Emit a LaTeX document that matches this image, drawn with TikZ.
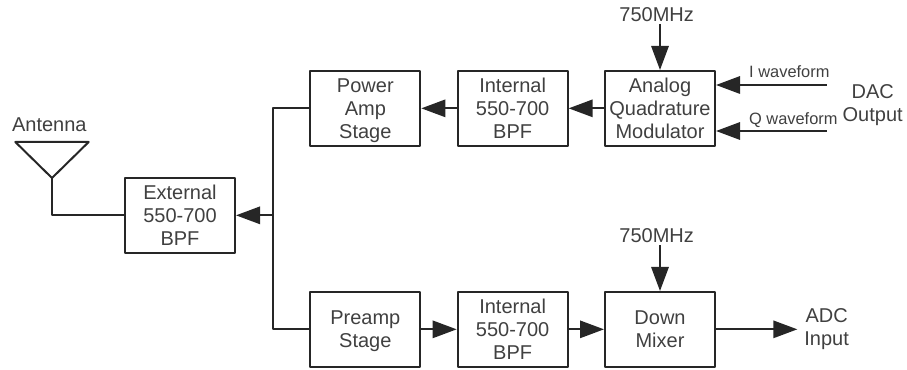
\documentclass[tikz,border=0pt]{standalone}
\usepackage{fontspec}
\setmainfont{Liberation Sans}
\usetikzlibrary{positioning,arrows.meta}

\begin{document}
\begin{tikzpicture}[
	font=\rmfamily\fontsize{15pt}{17.25pt}\selectfont,
	>={Triangle[length=18pt,width=13pt]},
	line join=round,
	block/.style={draw=black!85, line width=1.5pt, align=center, text=black!75,
		minimum width=82.5pt, minimum height=56pt, inner sep=0pt, text depth=-3pt},
	wire/.style={draw=black!85, line width=1.5pt},
	flow/.style={wire, ->},
	lbl/.style={text=black!75, align=center, inner sep=0pt},
	smalllbl/.style={lbl, font=\rmfamily\fontsize{12.3pt}{14pt}\selectfont},
]
\useasboundingbox (0,0) rectangle (680.25pt,-277.5pt);

% ---- transmit row ----
\node[block, anchor=north west] (mod) at (453pt,-52.5pt)
	{Analog\\Quadrature\\Modulator};
\node[block, left=26.5pt of mod] (inttx) {Internal\\550-700\\BPF};
\node[block, left=26.5pt of inttx] (amp) {Power\\Amp\\Stage};

\draw[flow] (mod) -- (inttx);
\draw[flow] (inttx) -- (amp);

% ---- receive row ----
\node[block, anchor=north west] (mix) at (453pt,-218.25pt) {Down\\Mixer};
\node[block, left=26.5pt of mix] (intrx) {Internal\\550-700\\BPF};
\node[block, left=26.5pt of intrx] (pre) {Preamp\\Stage};

\draw[flow] (pre) -- (intrx);
\draw[flow] (intrx) -- (mix);

% ---- external filter and bus ----
\node[block, anchor=north west] (ext) at (93pt,-132.75pt) {External\\550-700\\BPF};
\coordinate[right=27.75pt of ext] (bus);

\draw[wire] (amp.west) -- (amp.west -| bus) -- (pre.west -| bus) -- (pre.west);
\draw[flow] (bus) -- (ext);

% ---- antenna ----
\coordinate (anttip) at (39pt,-133.5pt);
\coordinate (antleft) at (11.5pt,-106.5pt);
\coordinate (antright) at (66.5pt,-106.5pt);
\node[lbl] (antlabel) at (37pt,-93.5pt) {Antenna};
\draw[wire] (antleft) -- (antright) -- (anttip) -- cycle;
\draw[wire] (anttip) |- (ext);

% ---- local oscillators ----
\node[lbl] (lotx) at (492.5pt,-11pt) {750MHz};
\node[lbl] (lorx) at (492.5pt,-177pt) {750MHz};
\coordinate (lotxend) at (495pt,-18pt);
\coordinate (lorxend) at (495pt,-184pt);
\draw[flow] (lotxend) -- (lotxend |- mod.north);
\draw[flow] (lorxend) -- (lorxend |- mix.north);

% ---- baseband ----
\coordinate (iend) at (620pt,-63.75pt);
\coordinate (qend) at (620pt,-98.25pt);
\draw[flow] (iend) -- (iend -| mod.east);
\draw[flow] (qend) -- (qend -| mod.east);
\node[smalllbl] (ilabel) at (592pt,-54pt) {I waveform};
\node[smalllbl] (qlabel) at (595pt,-90pt) {Q waveform};
\node[lbl] (dac) at (654.5pt,-79pt) {DAC\\Output};

\coordinate[right=61pt of mix] (adcend);
\draw[flow] (mix) -- (adcend);
\node[lbl] (adc) at (620pt,-246.5pt) {ADC\\Input};

\end{tikzpicture}
\end{document}
